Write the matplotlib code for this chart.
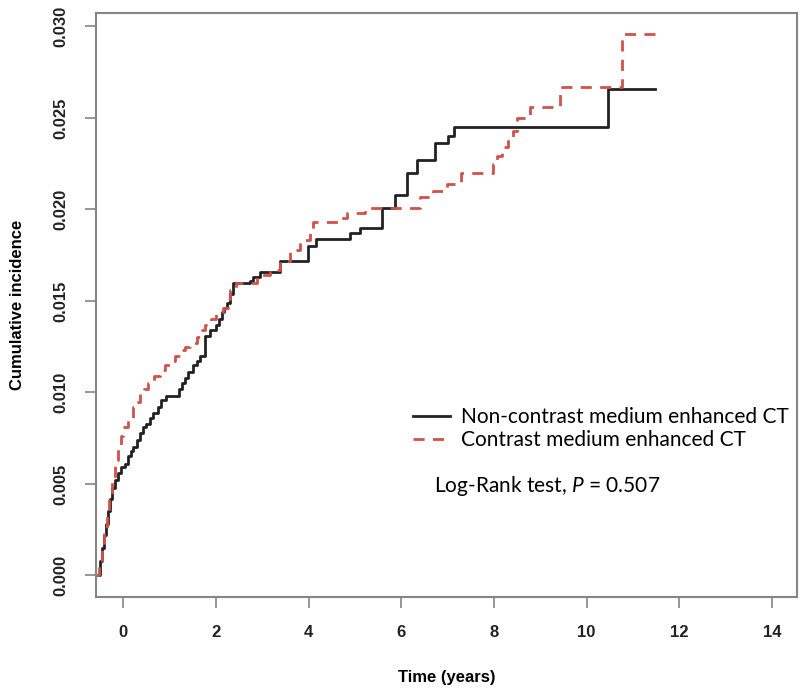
import matplotlib
matplotlib.use("Agg")
import matplotlib.pyplot as plt

plt.rcParams['font.family'] = ['Liberation Sans', 'DejaVu Sans']
plt.rcParams['mathtext.fontset'] = 'custom'
plt.rcParams['mathtext.rm'] = 'Lato'
plt.rcParams['mathtext.it'] = 'Lato:italic'

# step curves (time in years, cumulative incidence)
black_t = [-0.58, -0.50, -0.46, -0.42, -0.38, -0.34, -0.29, -0.24, -0.18, -0.12,
           -0.05, 0.03, 0.10, 0.16, 0.21, 0.29, 0.36, 0.43, 0.50, 0.57,
           0.64, 0.75, 0.82, 0.93, 1.20, 1.26, 1.33, 1.40, 1.50, 1.58,
           1.65, 1.76, 1.87, 2.01, 2.07, 2.12, 2.18, 2.23, 2.30, 2.36,
           2.73, 2.80, 2.95, 3.38, 3.98, 4.17, 4.89, 5.11, 5.58, 5.86,
           6.12, 6.33, 6.73, 7.01, 7.14, 10.46, 11.48]
black_y = [0.0, 0.0008, 0.0015, 0.0022, 0.0028, 0.0035, 0.0042, 0.0048, 0.0052, 0.0056,
           0.0059, 0.0061, 0.0065, 0.0068, 0.0070, 0.0074, 0.0078, 0.0081, 0.0083, 0.0086,
           0.0089, 0.0092, 0.0096, 0.0098, 0.0102, 0.0105, 0.0108, 0.0111, 0.0115, 0.0117,
           0.0120, 0.0131, 0.0134, 0.0137, 0.0140, 0.0144, 0.0146, 0.0149, 0.0154, 0.0160,
           0.0161, 0.0163, 0.0166, 0.0172, 0.0180, 0.0184, 0.0187, 0.0190, 0.0201, 0.0208,
           0.0220, 0.0227, 0.0236, 0.0240, 0.0245, 0.0266, 0.0266]

red_t = [-0.58, -0.52, -0.47, -0.42, -0.36, -0.30, -0.24, -0.18, -0.12, -0.06,
         0.00, 0.10, 0.21, 0.28, 0.36, 0.45, 0.53, 0.66, 0.79, 0.90,
         1.00, 1.12, 1.22, 1.33, 1.44, 1.58, 1.70, 1.76, 1.90, 2.01,
         2.15, 2.25, 2.30, 2.44, 2.88, 3.16, 3.31, 3.38, 3.60, 3.81,
         4.03, 4.09, 4.68, 4.82, 5.22, 6.40, 6.68, 6.98, 7.30, 7.98,
         8.06, 8.17, 8.30, 8.41, 8.49, 8.78, 9.43, 9.46, 10.76, 11.48]
red_y = [0.0, 0.0006, 0.0016, 0.0025, 0.0033, 0.0043, 0.0053, 0.0063, 0.0070, 0.0076,
         0.0081, 0.0086, 0.0092, 0.0095, 0.0099, 0.0102, 0.0105, 0.0109, 0.0112, 0.0115,
         0.0117, 0.0120, 0.0123, 0.0125, 0.0127, 0.0130, 0.0134, 0.0137, 0.0140, 0.0143,
         0.0146, 0.0151, 0.0156, 0.0160, 0.0164, 0.0166, 0.0167, 0.0172, 0.0178, 0.0183,
         0.0189, 0.0193, 0.0195, 0.0198, 0.0201, 0.0207, 0.0210, 0.0214, 0.0220, 0.0225,
         0.0229, 0.0234, 0.0239, 0.0243, 0.0250, 0.0256, 0.0263, 0.0267, 0.0296, 0.0296]

x_ticks = [0, 2, 4, 6, 8, 10, 12, 14]
y_ticks = [0.000, 0.005, 0.010, 0.015, 0.020, 0.025, 0.030]
labels = ["Non-contrast medium enhanced CT", "Contrast medium enhanced CT"]

fig = plt.figure(figsize=(8, 6.91), dpi=100)
ax = fig.add_axes([0.12, 0.136, 0.876, 0.845])

ax.plot(black_t, black_y, drawstyle='steps-post', color='#222222', lw=2, label=labels[0])
ax.plot(red_t, red_y, drawstyle='steps-post', color='#d0524a', lw=2,
        dashes=(4, 3), label=labels[1])

ax.set_xlim(-0.59, 14.54)
ax.set_ylim(-0.00118, 0.03072)
ax.set_xticks(x_ticks)
ax.set_yticks(y_ticks)
ax.set_yticklabels(["%.3f" % v for v in y_ticks], rotation=90, va='center')

for s in ax.spines.values():
    s.set_color('#858585')
    s.set_linewidth(1.5)
ax.tick_params(length=8, width=1.2, color='#858585', labelsize=12, labelcolor='#222222', pad=12)
for lab in ax.get_xticklabels() + ax.get_yticklabels():
    lab.set_fontweight('bold')

ax.set_xlabel("Time (years)", fontsize=12, fontweight='bold', labelpad=22)
ax.set_ylabel("Cumulative incidence", fontsize=12, fontweight='bold', labelpad=20)

ax.legend(loc='upper left', bbox_to_anchor=(0.44, 0.34), frameon=False,
          prop={'family': 'Lato', 'size': 15}, handlelength=1.8, handletextpad=0.5,
          labelspacing=0.15, borderaxespad=0)
ax.text(0.482, 0.19, "Log-Rank test, $P$ = 0.507", transform=ax.transAxes,
        fontsize=15, family='Lato', va='center', ha='left')

fig.savefig("out.png", dpi=100)
